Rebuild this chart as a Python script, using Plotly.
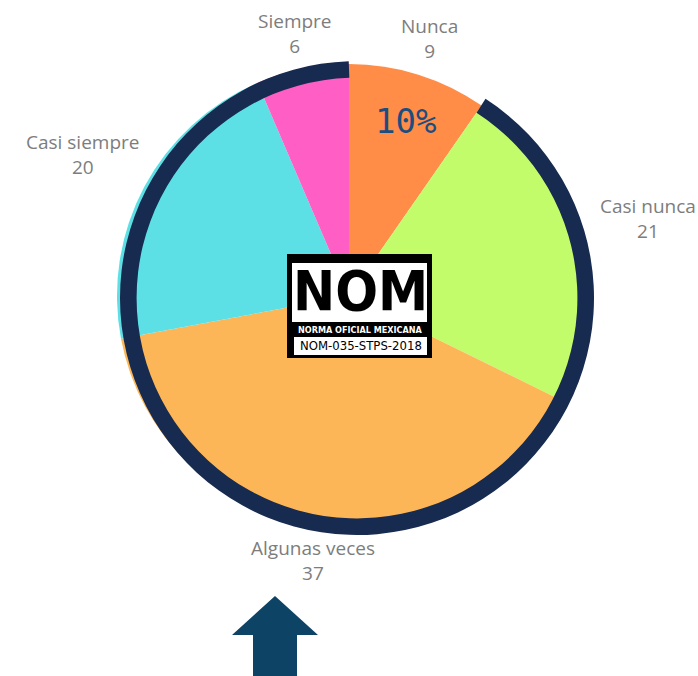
import math
import plotly.graph_objects as go

W, H = 698, 676

categories = ["Nunca", "Casi nunca", "Algunas veces", "Casi siempre", "Siempre"]
values = [9, 21, 37, 20, 6]
colors = ["#FF8C47", "#C3FC6B", "#FDB657", "#5DE0E5", "#FF5EC4"]

ring_labels = ["Nunca", "Resto"]
ring_values = [values[0], sum(values[1:])]
pct_nunca = round(100 * values[0] / sum(values))

logo_title = "NOM"
logo_sub = "NORMA OFICIAL MEXICANA"
logo_code = "NOM-035-STPS-2018"

PIE_CX, PIE_CY, PIE_R = 349, 296, 232


def fx(x):
    return x / W


def fy(y):
    return 1 - y / H


def dom(cx, cy, r):
    return dict(x=[fx(cx - r), fx(cx + r)], y=[fy(cy + r), fy(cy - r)])


fig = go.Figure()
fig.add_trace(go.Pie(
    labels=categories, values=values, sort=False, direction="clockwise",
    rotation=0, domain=dom(PIE_CX, PIE_CY, PIE_R),
    marker=dict(colors=colors, line=dict(width=0)),
    textinfo="none", showlegend=False, hoverinfo="label+value",
))
fig.add_trace(go.Pie(
    labels=ring_labels, values=ring_values, sort=False, direction="clockwise",
    rotation=-2, hole=0.93, domain=dom(357, 298, 237),
    marker=dict(colors=["rgba(0,0,0,0)", "#172A4F"], line=dict(width=0)),
    textinfo="none", showlegend=False, hoverinfo="skip",
))

# outside labels placed along each slice's mid-angle
annotations = []
total = sum(values)
cum = 0
for lab, v in zip(categories, values):
    mid = (cum + v / 2) / total * 2 * math.pi
    cum += v
    s, c = math.sin(mid), math.cos(mid)
    r = 266 + 46 * s * s
    lx = PIE_CX + r * s
    ly = PIE_CY - r * c
    annotations.append(dict(
        x=fx(lx), y=fy(ly), xref="paper", yref="paper", showarrow=False,
        text=f"{lab}<br>{v}", xanchor="center", yanchor="middle",
        font=dict(family="Open Sans, sans-serif", size=19, color="#7d7d7d"),
    ))

shapes = [
    dict(type="rect", xref="paper", yref="paper", x0=fx(287), x1=fx(432), y0=fy(358), y1=fy(254),
         fillcolor="#000000", line=dict(width=0)),
    dict(type="rect", xref="paper", yref="paper", x0=fx(292), x1=fx(427), y0=fy(322), y1=fy(263),
         fillcolor="#ffffff", line=dict(width=0)),
    dict(type="rect", xref="paper", yref="paper", x0=fx(294), x1=fx(427), y0=fy(355), y1=fy(337),
         fillcolor="#ffffff", line=dict(width=0)),
    dict(type="path", xref="paper", yref="paper",
         path=(f"M {fx(275)},{fy(596)} L {fx(318)},{fy(635)} L {fx(297)},{fy(635)} "
               f"L {fx(297)},{fy(676)} L {fx(253)},{fy(676)} L {fx(253)},{fy(635)} "
               f"L {fx(232)},{fy(635)} Z"),
         fillcolor="#0D4466", line=dict(width=0)),
]

annotations += [
    dict(x=fx(406), y=fy(121), xref="paper", yref="paper", text=f"{pct_nunca}%", showarrow=False,
         xanchor="center", yanchor="middle",
         font=dict(family="DejaVu Sans Mono, monospace", size=34, color="#1B4E7E")),
    dict(x=fx(360), y=fy(291), xref="paper", yref="paper", text=f"<b>{logo_title}</b>", showarrow=False,
         xanchor="center", yanchor="middle",
         font=dict(family="Liberation Sans Narrow, DejaVu Sans Condensed, sans-serif", size=56, color="#000000")),
    dict(x=fx(360), y=fy(330), xref="paper", yref="paper", text=f"<b>{logo_sub}</b>", showarrow=False,
         xanchor="center", yanchor="middle",
         font=dict(family="Liberation Sans Narrow, DejaVu Sans Condensed, sans-serif", size=9, color="#ffffff")),
    dict(x=fx(361), y=fy(346), xref="paper", yref="paper", text=logo_code, showarrow=False,
         xanchor="center", yanchor="middle",
         font=dict(family="Liberation Sans Narrow, DejaVu Sans Condensed, sans-serif", size=13, color="#000000")),
]

fig.update_layout(
    width=W, height=H, margin=dict(l=0, r=0, t=0, b=0),
    paper_bgcolor="#ffffff", plot_bgcolor="#ffffff",
    shapes=shapes, annotations=annotations, showlegend=False,
)
fig.write_html("out.html", post_script="document.body.style.margin='0';",
               config={"displayModeBar": False})
